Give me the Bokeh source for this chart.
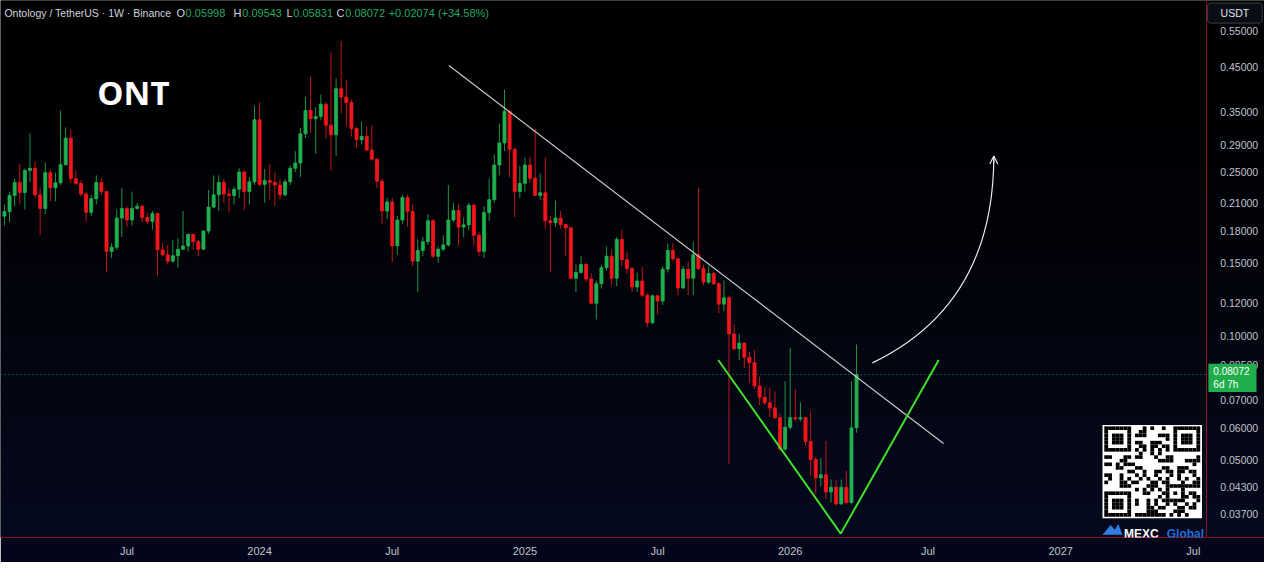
import numpy as np
from bokeh.plotting import figure
from bokeh.models import (Range1d, FixedTicker, PrintfTickFormatter, Label,
                          BoxAnnotation, Arrow, OpenHead, LogAxis)
from bokeh.embed import file_html
from bokeh.resources import INLINE

# ---------------- data: ONT/USDT weekly candles (first bar = week of 2023-01-16) -------------
opens = [0.1953, 0.2003, 0.2192, 0.2357, 0.2228, 0.2520, 0.2551, 0.2200, 0.2039, 0.2489,
         0.2289, 0.2352, 0.2603, 0.3018, 0.2408, 0.2345, 0.2209, 0.1995, 0.2153, 0.2357,
         0.2240, 0.1604, 0.1642, 0.1932, 0.2039, 0.1911, 0.2039, 0.2065, 0.1939, 0.1897,
         0.1981, 0.1618, 0.1574, 0.1519, 0.1566, 0.1624, 0.1654, 0.1764, 0.1693, 0.1624,
         0.1797, 0.2054, 0.2200, 0.2357, 0.2209, 0.2192, 0.2269, 0.2497, 0.2240, 0.2365,
         0.3345, 0.2332, 0.2383, 0.2357, 0.2323, 0.2200, 0.2365, 0.2551, 0.2627, 0.3091,
         0.3520, 0.3364, 0.3407, 0.3648, 0.3245, 0.3074, 0.3979, 0.3797, 0.3682, 0.3186,
         0.2992, 0.3046, 0.2823, 0.2684, 0.2374, 0.2009, 0.2114, 0.1654, 0.1911, 0.2168,
         0.2003, 0.1519, 0.1613, 0.1693, 0.1903, 0.1561, 0.1624, 0.1663, 0.1911, 0.2017,
         0.1837, 0.1860, 0.2076, 0.1755, 0.1604, 0.1992, 0.2141, 0.2598, 0.2938, 0.3507,
         0.2834, 0.2240, 0.2345, 0.2598, 0.2413, 0.2192, 0.2225, 0.1903, 0.1883, 0.1932,
         0.1863, 0.1830, 0.1381, 0.1426, 0.1491, 0.1375, 0.1201, 0.1339, 0.1465, 0.1561,
         0.1381, 0.1715, 0.1533, 0.1457, 0.1315, 0.1360, 0.1256, 0.1077, 0.1252, 0.1216,
         0.1452, 0.1613, 0.1539, 0.1308, 0.1452, 0.1381, 0.1574, 0.1457, 0.1351, 0.1418,
         0.1339, 0.1195, 0.1238, 0.1012, 0.0932, 0.0961, 0.0888, 0.0862, 0.0757, 0.0711,
         0.0689, 0.0670, 0.0634, 0.0532, 0.0601, 0.0634, 0.0630, 0.0634, 0.0555, 0.0502,
         0.0453, 0.0461, 0.0419, 0.0430, 0.0392, 0.0430, 0.0395, 0.05998]
highs = [0.2084, 0.2240, 0.2408, 0.2613, 0.2547, 0.3101, 0.2646, 0.2289, 0.2636, 0.2534,
         0.2489, 0.3520, 0.3204, 0.3169, 0.2520, 0.2387, 0.2240, 0.2200, 0.2452, 0.2408,
         0.2245, 0.1678, 0.2028, 0.2282, 0.2065, 0.2240, 0.2103, 0.2080, 0.1992, 0.2009,
         0.1992, 0.1684, 0.1663, 0.1708, 0.1724, 0.2009, 0.1771, 0.1765, 0.1708, 0.1803,
         0.2261, 0.2452, 0.2452, 0.2400, 0.2282, 0.2302, 0.2551, 0.2520, 0.2429, 0.3620,
         0.3682, 0.2543, 0.2613, 0.2497, 0.2408, 0.2400, 0.2589, 0.2808, 0.3199, 0.3797,
         0.4256, 0.3584, 0.3851, 0.3682, 0.4874, 0.4217, 0.5190, 0.4178, 0.3748, 0.3216,
         0.3316, 0.3216, 0.3245, 0.2693, 0.2408, 0.2161, 0.2161, 0.1956, 0.2200, 0.2200,
         0.2084, 0.1715, 0.1739, 0.1974, 0.1921, 0.1648, 0.1755, 0.2323, 0.2103, 0.2084,
         0.1939, 0.2103, 0.2090, 0.1788, 0.2065, 0.2408, 0.2758, 0.3274, 0.3957, 0.3532,
         0.2859, 0.2589, 0.2708, 0.2720, 0.3186, 0.2479, 0.2708, 0.1956, 0.2129, 0.2009,
         0.1870, 0.1840, 0.1491, 0.1561, 0.1505, 0.1418, 0.1363, 0.1491, 0.1648, 0.1618,
         0.1739, 0.1810, 0.1604, 0.1470, 0.1426, 0.1470, 0.1272, 0.1258, 0.1256, 0.1478,
         0.1678, 0.1678, 0.1547, 0.1478, 0.1511, 0.1693, 0.2289, 0.1491, 0.1478, 0.1431,
         0.1351, 0.1363, 0.1252, 0.1068, 0.1012, 0.0968, 0.0916, 0.0924, 0.0797, 0.0752,
         0.0750, 0.0733, 0.0649, 0.0778, 0.0937, 0.0744, 0.0691, 0.0637, 0.0657, 0.0509,
         0.0506, 0.0557, 0.0449, 0.0449, 0.0449, 0.0472, 0.0776, 0.09543]
lows = [0.1853, 0.1887, 0.2065, 0.2084, 0.2028, 0.2365, 0.2161, 0.1755, 0.1974, 0.2121,
        0.2121, 0.2323, 0.2589, 0.2345, 0.2323, 0.2180, 0.1903, 0.1956, 0.2084, 0.2200,
        0.1426, 0.1547, 0.1618, 0.1739, 0.1837, 0.1853, 0.2028, 0.1887, 0.1870, 0.1810,
        0.1401, 0.1561, 0.1491, 0.1505, 0.1465, 0.1618, 0.1604, 0.1618, 0.1561, 0.1618,
        0.1771, 0.2039, 0.2009, 0.2103, 0.1992, 0.2084, 0.2161, 0.2020, 0.2084, 0.2323,
        0.2302, 0.2103, 0.2141, 0.2065, 0.2141, 0.2180, 0.2323, 0.2497, 0.2429, 0.3018,
        0.3113, 0.2767, 0.3335, 0.3018, 0.2520, 0.2733, 0.3469, 0.3216, 0.3046, 0.2859,
        0.2912, 0.2810, 0.2660, 0.2282, 0.1870, 0.1921, 0.1511, 0.1574, 0.1870, 0.1837,
        0.1478, 0.1279, 0.1561, 0.1663, 0.1547, 0.1505, 0.1604, 0.1648, 0.1887, 0.1663,
        0.1739, 0.1803, 0.1663, 0.1561, 0.1547, 0.1903, 0.2103, 0.2452, 0.2808, 0.2429,
        0.1945, 0.2161, 0.2240, 0.2349, 0.2180, 0.2141, 0.1820, 0.1431, 0.1840, 0.1820,
        0.1563, 0.1375, 0.1279, 0.1418, 0.1351, 0.1195, 0.1097, 0.1303, 0.1439, 0.1327,
        0.1322, 0.1478, 0.1418, 0.1279, 0.1279, 0.1245, 0.1052, 0.1071, 0.1128, 0.1190,
        0.1426, 0.1519, 0.1256, 0.1303, 0.1256, 0.1256, 0.1447, 0.1327, 0.1339, 0.1330,
        0.1137, 0.1148, 0.0490, 0.0924, 0.0875, 0.0837, 0.0771, 0.0744, 0.0680, 0.0680,
        0.0637, 0.0630, 0.0527, 0.0527, 0.0593, 0.0621, 0.0621, 0.0542, 0.0457, 0.0414,
        0.0432, 0.0403, 0.0395, 0.0388, 0.0390, 0.0391, 0.0391, 0.05831]
closes = [0.2003, 0.2192, 0.2357, 0.2228, 0.2520, 0.2551, 0.2200, 0.2039, 0.2489, 0.2289,
          0.2352, 0.2603, 0.3018, 0.2408, 0.2345, 0.2209, 0.1995, 0.2153, 0.2357, 0.2240,
          0.1604, 0.1642, 0.1932, 0.2039, 0.1911, 0.2039, 0.2065, 0.1939, 0.1897, 0.1981,
          0.1618, 0.1574, 0.1519, 0.1566, 0.1624, 0.1654, 0.1764, 0.1693, 0.1624, 0.1797,
          0.2054, 0.2200, 0.2357, 0.2209, 0.2192, 0.2269, 0.2497, 0.2240, 0.2365, 0.3345,
          0.2332, 0.2383, 0.2357, 0.2323, 0.2200, 0.2365, 0.2551, 0.2627, 0.3091, 0.3520,
          0.3364, 0.3407, 0.3648, 0.3245, 0.3074, 0.3979, 0.3797, 0.3682, 0.3186, 0.2992,
          0.3046, 0.2823, 0.2684, 0.2374, 0.2009, 0.2114, 0.1654, 0.1911, 0.2168, 0.2003,
          0.1519, 0.1613, 0.1693, 0.1903, 0.1561, 0.1624, 0.1663, 0.1911, 0.2017, 0.1837,
          0.1860, 0.2076, 0.1755, 0.1604, 0.1992, 0.2141, 0.2598, 0.2938, 0.3507, 0.2834,
          0.2240, 0.2345, 0.2598, 0.2413, 0.2192, 0.2225, 0.1903, 0.1883, 0.1932, 0.1863,
          0.1830, 0.1381, 0.1426, 0.1491, 0.1375, 0.1201, 0.1339, 0.1465, 0.1561, 0.1381,
          0.1715, 0.1533, 0.1457, 0.1315, 0.1360, 0.1256, 0.1077, 0.1252, 0.1216, 0.1452,
          0.1613, 0.1539, 0.1308, 0.1452, 0.1381, 0.1574, 0.1457, 0.1351, 0.1418, 0.1339,
          0.1195, 0.1238, 0.1012, 0.0932, 0.0961, 0.0888, 0.0862, 0.0757, 0.0711, 0.0689,
          0.0670, 0.0634, 0.0532, 0.0601, 0.0634, 0.0630, 0.0634, 0.0555, 0.0502, 0.0453,
          0.0461, 0.0419, 0.0430, 0.0392, 0.0430, 0.0395, 0.0599, 0.08072]
week_index = list(range(len(opens)))   # one bar per week

x_tick_pos = [24, 50, 76, 102, 128, 154, 181, 207, 233]
x_tick_labels = ["Jul", "2024", "Jul", "2025", "Jul", "2026", "Jul", "2027", "Jul"]
y_ticks = [0.037, 0.043, 0.05, 0.06, 0.07, 0.085, 0.10, 0.12, 0.15, 0.18,
           0.21, 0.25, 0.29, 0.35, 0.45, 0.55]

# drawn annotations (bar index, price)
trend_x = [87.1, 184.05]
trend_y = [0.4525, 0.0549]
v_x = [139.9, 163.9, 183.1]
v_y = [0.0875, 0.0332, 0.0875]
curve = dict(x0=170.1, y0=0.0861, cx=193.9, cy=0.1192, x1=193.9, y1=0.2733)

X_MIN, X_MAX = -0.774, 246.95      # whole width (chart + price scale strip)
AXIS_X = 235.53                     # price scale position
Y_MIN, Y_MAX = 0.03249, 0.6507

GREEN = "#21b04f"
RED = "#f2161c"
GREEN_WICK = "#1b9444"
RED_WICK = "#c0161a"
AXIS_TXT = "#c0c3cc"
RED_LINE = "#8c1526"

p = figure(width=1264, height=562, x_range=Range1d(X_MIN, X_MAX),
           y_range=Range1d(Y_MIN, Y_MAX), y_axis_type="log", y_axis_location=None,
           output_backend="svg", toolbar_location=None,
           min_border_left=0, min_border_top=0, min_border_right=0, min_border_bottom=25,
           background_fill_color="#000000", border_fill_color="#03061a",
           outline_line_color=None)
p.grid.visible = False

# background vertical gradient
n_bands = 32
edges = np.geomspace(Y_MAX, Y_MIN, n_bands + 1)
for k in range(n_bands):
    t = ((k + 0.5) / n_bands) ** 1.4
    col = "#%02x%02x%02x" % (int(6 * t), int(10 * t), int(30 * t))
    p.add_layout(BoxAnnotation(top=edges[k] * 1.003, bottom=edges[k + 1], fill_color=col,
                               fill_alpha=1.0, line_color=None, level="underlay"))

# current price line
p.segment(x0=[X_MIN], x1=[AXIS_X], y0=[closes[-1]], y1=[closes[-1]],
          line_color="#1e9a50", line_dash="1 3", line_width=1)

# candles
up = [c >= o for o, c in zip(opens, closes)]
body_col = [GREEN if u else RED for u in up]
wick_col = [GREEN_WICK if u else RED_WICK for u in up]
body_top = [max(o, c) for o, c in zip(opens, closes)]
body_bot = [min(o, c) for o, c in zip(opens, closes)]
p.segment(x0=week_index, y0=lows, x1=week_index, y1=highs, line_color=wick_col, line_width=1)
p.vbar(x=week_index, top=body_top, bottom=body_bot, width=0.6,
       fill_color=body_col, line_color=body_col, line_width=0.8)

# trend line, V pattern, curved arrow
p.line(trend_x, trend_y, line_color="#c8c8c8", line_width=1.2)
p.line(v_x, v_y, line_color="#3ee02a", line_width=2)
p.quadratic(x0=[curve["x0"]], y0=[curve["y0"]], x1=[curve["x1"]], y1=[curve["y1"]],
            cx=[curve["cx"]], cy=[curve["cy"]], line_color="#e8e8e8", line_width=1.2)
p.add_layout(Arrow(end=OpenHead(size=8, line_color="#e8e8e8", line_width=1.2),
                   x_start=curve["x1"], y_start=curve["y1"] * 0.96,
                   x_end=curve["x1"], y_end=curve["y1"], line_color="#e8e8e8", line_width=1.2))

# price axis (drawn at the chart's right edge, inside the full-width frame)
yax = LogAxis(fixed_location=AXIS_X, ticker=FixedTicker(ticks=y_ticks),
              formatter=PrintfTickFormatter(format="%.5f"))
p.add_layout(yax, "right")

p.xaxis.ticker = FixedTicker(ticks=x_tick_pos)
p.xaxis.major_label_overrides = {t: l for t, l in zip(x_tick_pos, x_tick_labels)}
for ax in (p.xaxis[0], yax):
    ax.axis_line_color = RED_LINE
    ax.axis_line_width = 1
    ax.major_tick_line_color = None
    ax.minor_tick_line_color = None
    ax.major_tick_out = 0
    ax.major_tick_in = 0
    ax.major_label_text_color = AXIS_TXT
    ax.major_label_text_font = "Liberation Sans"
p.xaxis.major_label_text_font_size = "11px"
p.xaxis.major_label_standoff = 7
yax.major_label_text_font_size = "10.5px"
yax.major_label_standoff = 14

# header text
HDR_Y = 0.6064
hdr = [(0.0, "Ontology / TetherUS · 1W · Binance", "#d1d4dc"),
       (33.74, "O", "#d1d4dc"), (35.5, "0.05998", "#22a862"),
       (44.9, "H", "#d1d4dc"), (46.6, "0.09543", "#22a862"),
       (55.3, "L", "#d1d4dc"), (56.6, "0.05831", "#22a862"),
       (65.1, "C", "#d1d4dc"), (66.8, "0.08072", "#22a862"),
       (75.3, "+0.02074 (+34.58%)", "#22a862")]
for hx, txt, col in hdr:
    p.add_layout(Label(x=hx, y=HDR_Y, text=txt, text_color=col, text_font="Liberation Sans",
                       text_font_size="10.5px" if hx < 1 else "11px",
                       text_baseline="middle", text_align="left"))

p.add_layout(Label(x=18.2, y=0.3888, text="ONT", text_color="#ffffff", text_font="Open Sans",
                   text_font_style="bold", text_font_size="33px", text_baseline="alphabetic"))


def boxed_label(pad, **kw):
    try:
        return Label(padding=pad, **kw)
    except Exception:
        return Label(padding=4, **kw)


# USDT button and last-price tag on the price scale
p.add_layout(boxed_label(dict(left=13, right=13, top=4, bottom=4),
                         x=241.15, y=HDR_Y, text="USDT", text_color="#e0e3eb",
                         text_font="Liberation Sans", text_font_size="10.5px",
                         text_align="center", text_baseline="middle",
                         background_fill_color="#0b0d14", border_line_color="#3a3e4a",
                         border_radius=3))
p.add_layout(boxed_label(dict(left=5, right=7, top=2, bottom=2),
                         x=235.95, y=0.0857, text="0.08072\n6d 7h", text_color="#ffffff",
                         text_font="Liberation Sans", text_font_size="10px",
                         text_baseline="top", background_fill_color="#1fae4b"))

# MEXC QR code block
qr_l, qr_r = 215.2, 234.7
qr_t, qr_b = 0.0609, 0.0362
p.quad(left=[qr_l], right=[qr_r], top=[qr_t], bottom=[qr_b], fill_color="#ffffff", line_color=None)
N = 25
xe = np.linspace(qr_l + 0.35, qr_r - 0.35, N + 1)
ye = np.geomspace(qr_t * 0.992, qr_b * 1.008, N + 1)


def qr_dark(r, c):
    for r0, c0 in ((0, 0), (0, 18), (18, 0)):
        if r0 <= r < r0 + 7 and c0 <= c < c0 + 7:
            return max(abs(r - r0 - 3), abs(c - c0 - 3)) != 2
    for r0, c0 in ((0, 0), (0, 18), (18, 0)):
        if r0 - 1 <= r <= r0 + 7 and c0 - 1 <= c <= c0 + 7:
            return False
    if 16 <= r <= 20 and 16 <= c <= 20:
        return max(abs(r - 18), abs(c - 18)) != 1
    if r == 6:
        return c % 2 == 0
    if c == 6:
        return r % 2 == 0
    return ((r * 7 + c * 13 + (r * c) % 7) % 5) < 2


ql, qr_, qt, qb = [], [], [], []
for r in range(N):
    for c in range(N):
        if qr_dark(r, c):
            ql.append(xe[c]); qr_.append(xe[c + 1]); qt.append(ye[r]); qb.append(ye[r + 1])
p.quad(left=ql, right=qr_, top=qt, bottom=qb, fill_color="#000000", line_color=None)

p.patch([215.2, 216.8, 217.6, 218.3, 219.1], [0.0330, 0.03485, 0.03392, 0.03504, 0.0330],
        fill_color="#2f7de1", line_color=None)
p.add_layout(Label(x=219.4, y=0.0331, text="MEXC", text_color="#ffffff", text_font="Liberation Sans",
                   text_font_style="bold", text_font_size="12px", text_baseline="alphabetic"))
p.add_layout(Label(x=227.8, y=0.0331, text="Global", text_color="#1e6fdc", text_font="Liberation Sans",
                   text_font_style="bold", text_font_size="12px", text_baseline="alphabetic"))

open("out.html", "w").write(file_html(p, INLINE))
